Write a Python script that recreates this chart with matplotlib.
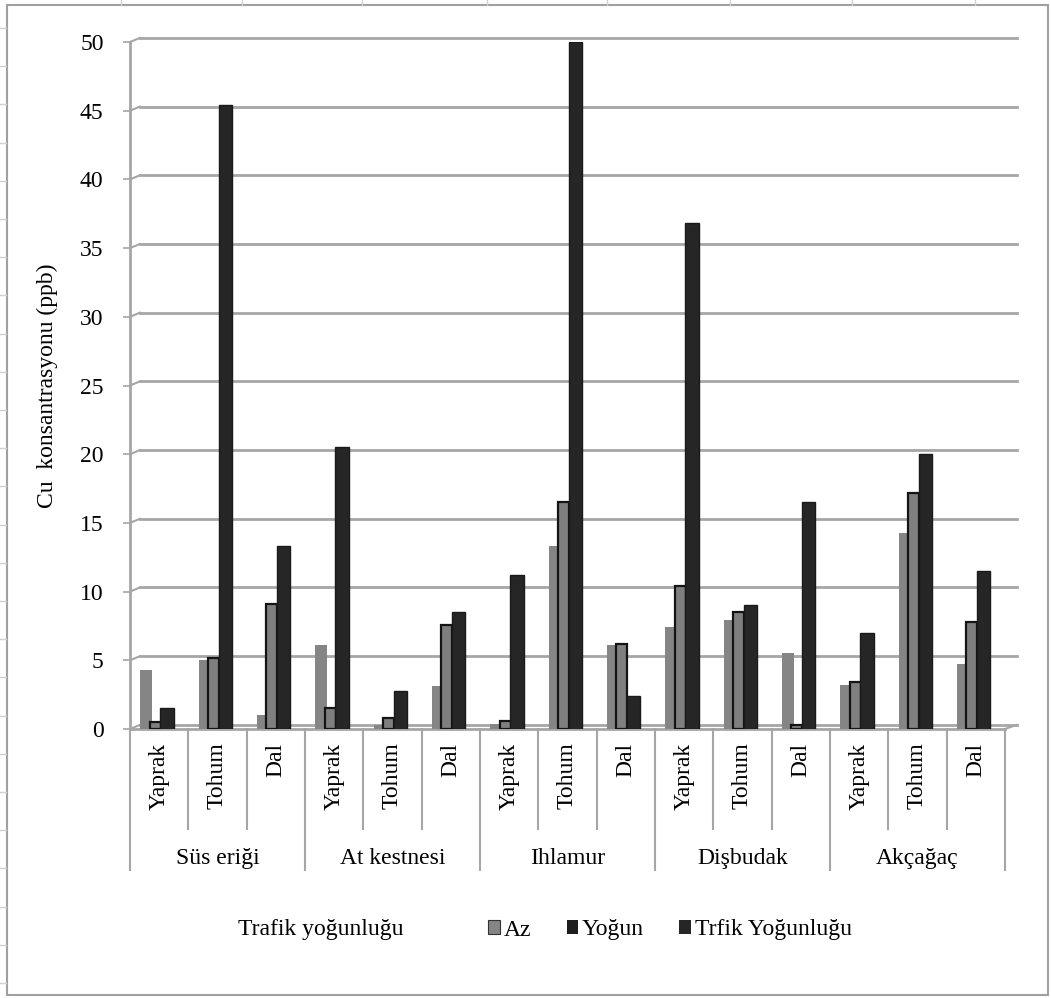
import matplotlib.pyplot as plt
from matplotlib.patches import Patch, Rectangle
from matplotlib.lines import Line2D

plt.rcParams['font.family'] = ['Liberation Serif', 'DejaVu Serif']

trees = ['Süs eriği', 'At kestnesi', 'Ihlamur', 'Dişbudak', 'Akçağaç']
parts = ['Yaprak', 'Tohum', 'Dal']

# Cu values per tree/part, in order Yaprak, Tohum, Dal for each tree
az = [4.3, 5.0, 1.0,
      6.1, 0.3, 3.1,
      0.4, 13.3, 6.1,
      7.4, 7.9, 5.5,
      3.2, 14.3, 4.7]
yogun = [0.5, 5.2, 9.1,
         1.5, 0.8, 7.6,
         0.6, 16.5, 6.2,
         10.4, 8.5, 0.3,
         3.4, 17.2, 7.8]
trafik = [1.5, 45.4, 13.3,
          20.5, 2.8, 8.5,
          11.2, 50.0, 2.4,
          36.8, 9.0, 16.5,
          7.0, 20.0, 11.5]
yticks = [0, 5, 10, 15, 20, 25, 30, 35, 40, 45, 50]

W, H = 1051, 998
FS = 17
fig = plt.figure(figsize=(W / 100, H / 100), dpi=100)
ax = fig.add_axes([130 / W, 1 - 729 / H, 875 / W, 687 / H])

n = len(az)
centers = [i + 0.5 for i in range(n)]
grid_c = '#a6a6a6'

# back wall gridlines with the small slanted join to the axis
for v in yticks:
    ax.plot([0.17, 15.2], [v + 0.3, v + 0.3], color=grid_c, lw=2, zorder=1, clip_on=False)
    ax.plot([0, 0.17], [v, v + 0.3], color=grid_c, lw=1.5, zorder=1, clip_on=False)
ax.plot([0, 15], [0, 0], color=grid_c, lw=2, zorder=1, clip_on=False)
ax.plot([15, 15.2], [0, 0.3], color=grid_c, lw=1.5, zorder=1, clip_on=False)

ax.bar([c - 0.225 for c in centers], az, width=0.2, color='#858585', zorder=2)
ax.bar([c - 0.07 for c in centers], yogun, width=0.19, color='#7f7f7f',
       edgecolor='#141414', linewidth=1.6, zorder=3)
ax.bar([c + 0.135 for c in centers], trafik, width=0.23, color='#262626',
       edgecolor='#1a1a1a', linewidth=1, zorder=4)

ax.set_xlim(0, 15)
ax.set_ylim(0, 50)
ax.set_xticks([])
ax.set_yticks(yticks)
ax.tick_params(axis='y', length=5, width=1.2, color=grid_c, labelsize=FS, pad=14)
for s in ['top', 'right', 'bottom']:
    ax.spines[s].set_visible(False)
ax.spines['left'].set_color(grid_c)
ax.spines['left'].set_linewidth(2)
ax.set_ylabel('Cu  konsantrasyonu (ppb)', fontsize=FS, labelpad=16)

# two-level category labels below the floor
tr = ax.get_xaxis_transform()
for i in range(n + 1):
    y_end = -0.205 if i % 3 == 0 else -0.145
    ax.plot([i, i], [0, y_end], transform=tr, color=grid_c, lw=1.5,
            clip_on=False, zorder=1)
for i, c in enumerate(centers):
    ax.text(c, -0.02, parts[i % 3], transform=tr, rotation=90, ha='center',
            va='top', fontsize=FS)
for g, name in enumerate(trees):
    ax.text(g * 3 + 1.5, -0.188, name, transform=tr, ha='center', va='center',
            fontsize=FS)

# legend row
fig.text(321 / W, 1 - 930 / H, 'Trafik yoğunluğu', ha='center', va='center', fontsize=FS)
handles = [Patch(facecolor='#858585', edgecolor='#333333', linewidth=0.8),
           Patch(facecolor='#1e1e1e'),
           Patch(facecolor='#262626')]
fig.legend(handles, ['Az', 'Yoğun', 'Trfik Yoğunluğu'], loc='center',
           bbox_to_anchor=(670 / W, 1 - 930 / H), ncol=3, frameon=False,
           fontsize=FS, handlelength=0.5, handleheight=0.5,
           handletextpad=0.15, columnspacing=1.5)

# chart area border and the sheet marks around it
fig.patches.append(Rectangle((7 / W, 3 / H), 1041 / W, 990 / H, transform=fig.transFigure,
                             fill=False, edgecolor='#a0a0a0', linewidth=1.5))
for x in [121, 242, 362, 487, 607, 730, 852, 975]:
    fig.add_artist(Line2D([x / W, x / W], [1, 1 - 5 / H], color='#d0d0d0', lw=1))
for k in range(26):
    y = 28 + 38.2 * k
    fig.add_artist(Line2D([0, 6 / W], [1 - y / H, 1 - y / H], color='#d0d0d0', lw=1))

fig.savefig('out.png', dpi=100, facecolor='white')
